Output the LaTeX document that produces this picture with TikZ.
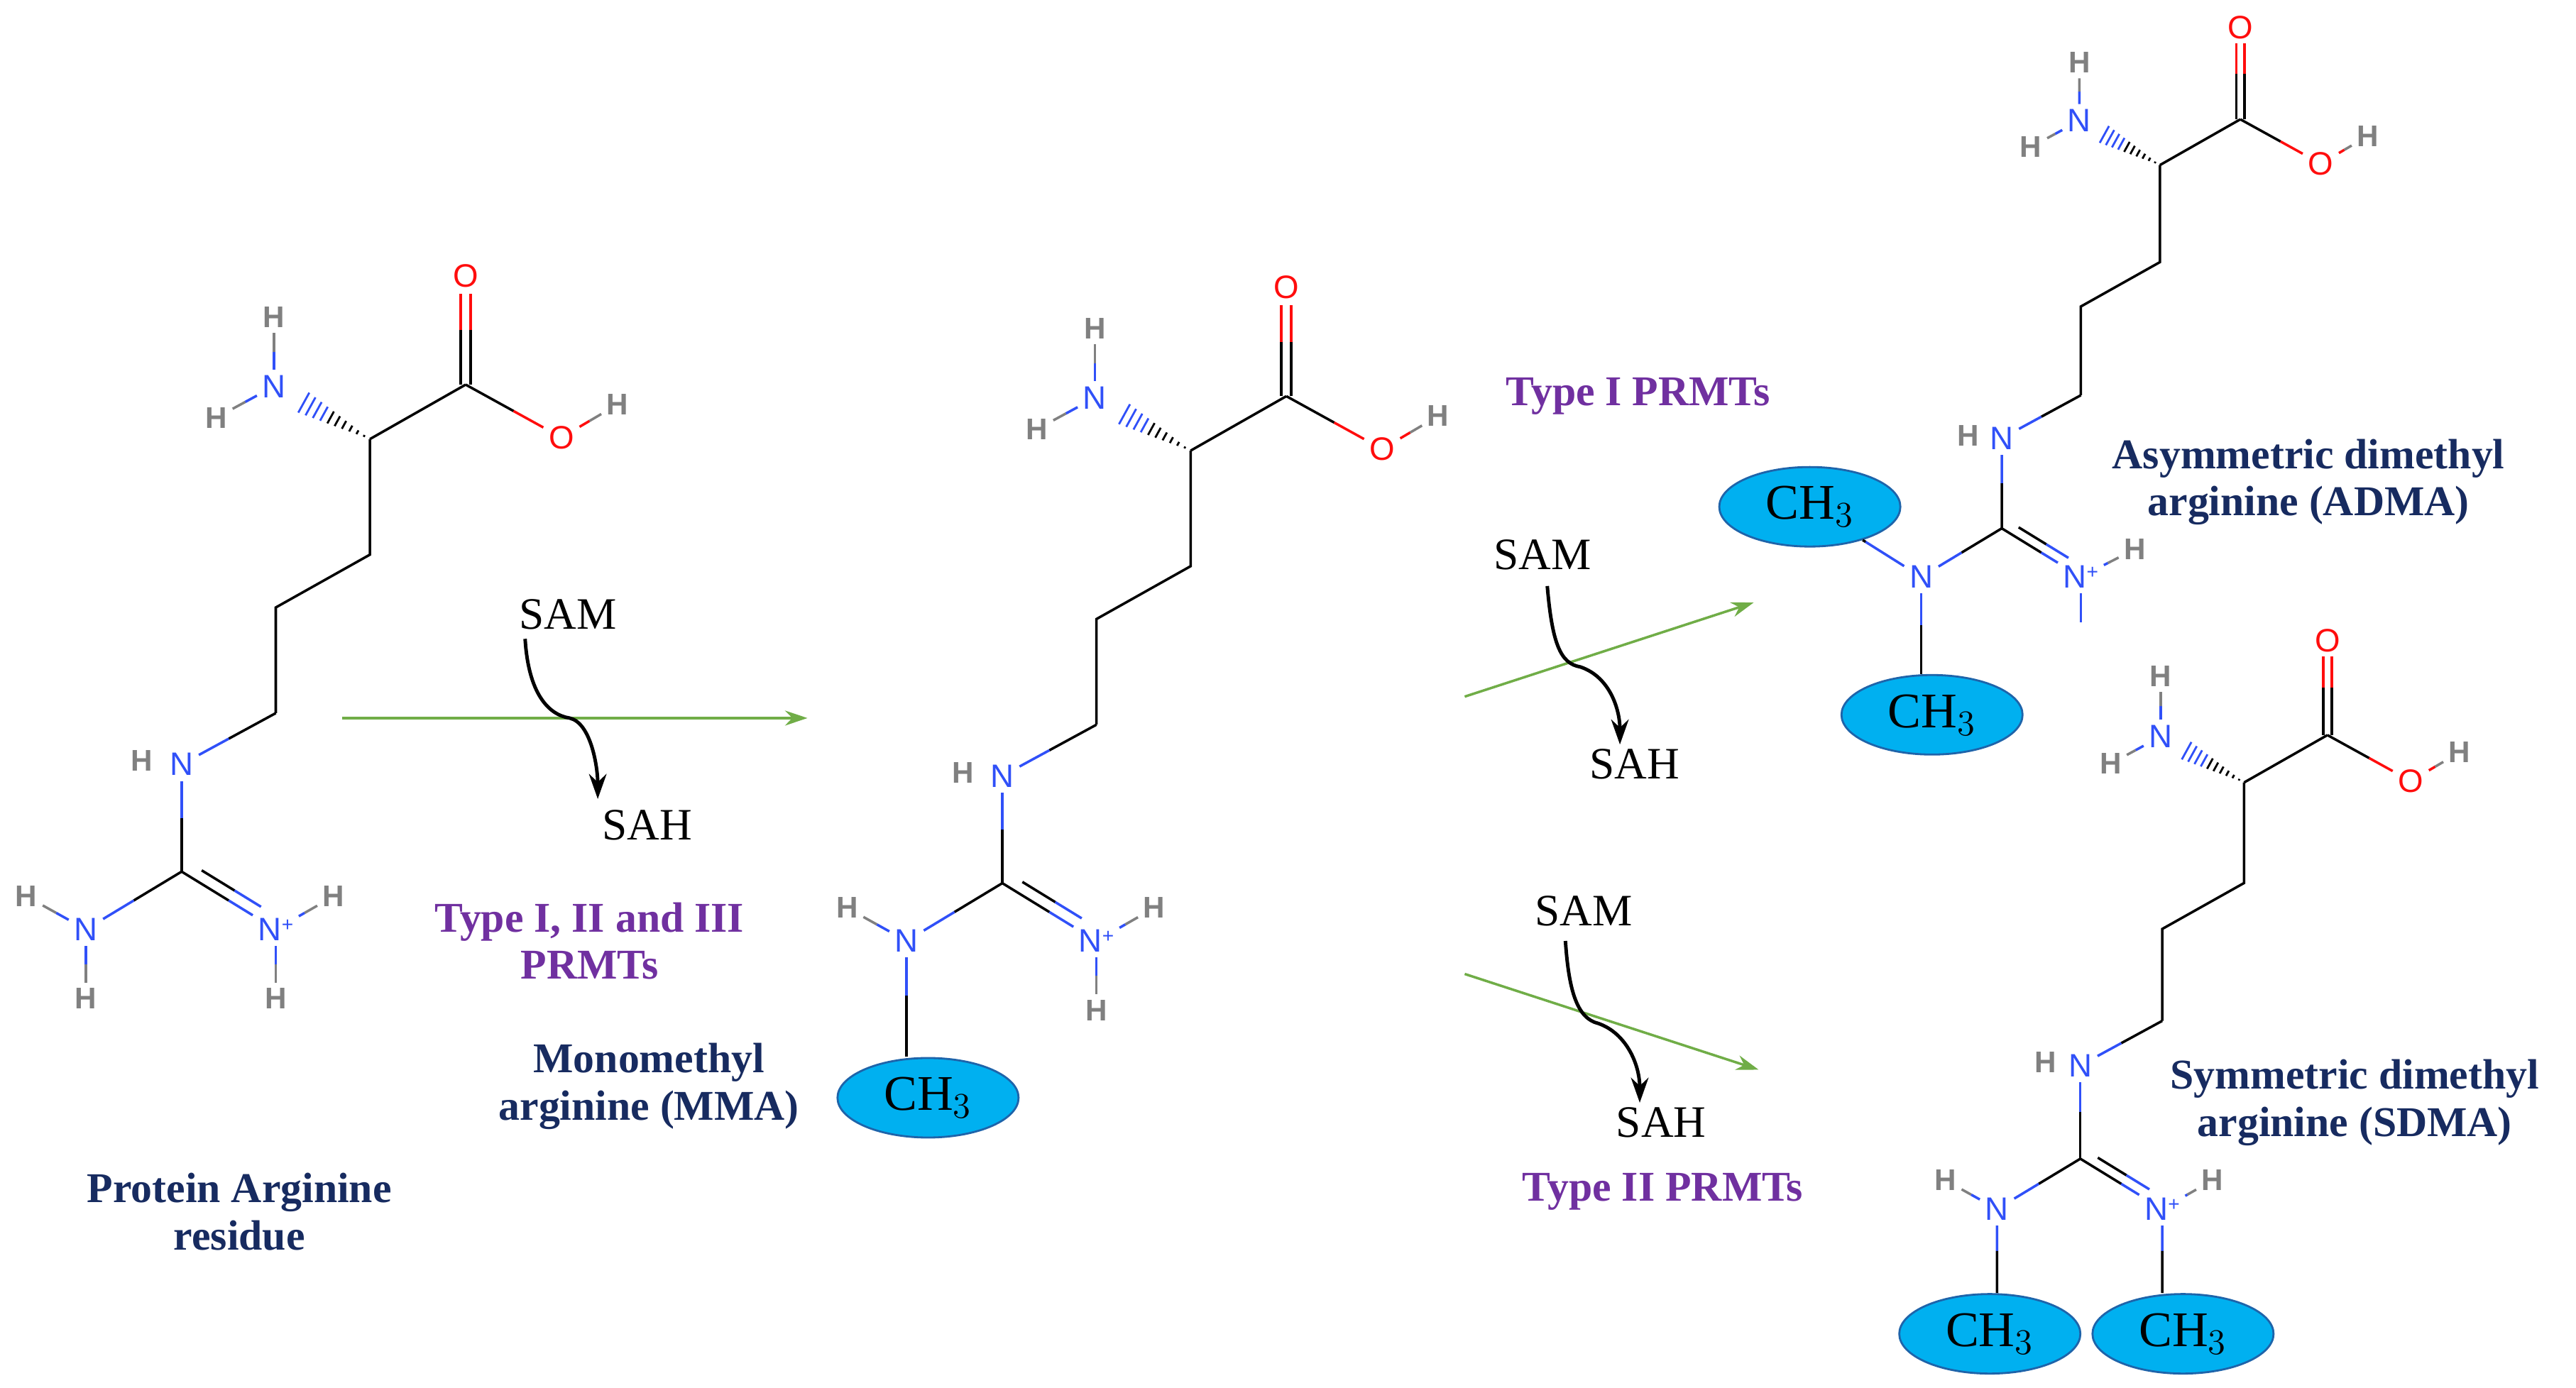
\documentclass[tikz,border=0pt]{standalone}
\usepackage{fontspec}
\setmainfont{Liberation Serif}
\setsansfont{Liberation Sans}
\usetikzlibrary{calc,arrows.meta,shapes.geometric}
\definecolor{nblue}{RGB}{48,80,248}
\definecolor{ored}{RGB}{255,13,13}
\definecolor{hgray}{RGB}{128,128,128}
\definecolor{agreen}{RGB}{112,173,71}
\definecolor{navy}{RGB}{23,43,96}
\definecolor{purp}{RGB}{112,48,160}
\definecolor{cyanf}{RGB}{0,176,240}
\definecolor{cyand}{RGB}{30,100,170}
\tikzset{
  bond/.style={line width=1pt},
  atm/.style={font=\sffamily\fontsize{13}{13}\selectfont,inner sep=2pt},
  nat/.style={atm,text=nblue},
  oat/.style={atm,text=ored},
  hat/.style={atm,text=hgray,font=\sffamily\bfseries\fontsize{12}{12}\selectfont},
  lab/.style={font=\fontsize{18}{20}\selectfont,align=center},
  nlab/.style={lab,text=navy,font=\bfseries\fontsize{17}{19}\selectfont},
  plab/.style={lab,text=purp,font=\bfseries\fontsize{17}{19}\selectfont},
  meth/.style={ellipse,fill=cyanf,draw=cyand,line width=0.8pt,minimum width=2.55cm,minimum height=1.12cm,inner sep=0pt,font=\fontsize{20}{20}\selectfont},
  garr/.style={agreen,line width=1pt,-{Stealth[length=9pt,width=6pt]}},
  karr/.style={black,line width=1.4pt,-{Stealth[length=10pt,width=7pt]}},
}
\newcommand\bnd[4]{\draw[bond,#3] (#1) -- ($(#1)!0.5!(#2)$); \draw[bond,#4] ($(#1)!0.5!(#2)$) -- (#2);}
\newcommand\argtop[1]{%
 \coordinate (#1ca) at (0,0);
 \coordinate (#1cc) at (58,-33);
 \node[oat] (#1o1) at (58,-99) {O};
 \node[oat] (#1o2) at (116,-1) {O};
 \node[hat] (#1h1) at (150,-21) {H};
 \node[nat] (#1na) at (-58,-32) {N};
 \node[hat] (#1h2) at (-58,-74) {H};
 \node[hat] (#1h3) at (-93,-13) {H};
 \coordinate (#1c1) at (0,70);
 \coordinate (#1c2) at (-57,102);
 \coordinate (#1c3) at (-57,166);
 \node[nat] (#1nh) at (-114,197) {N};
 \node[hat] (#1h4) at (-138,195) {H};
 \coordinate (#1cg) at (-114,262);
 \draw[bond] (#1ca) -- (#1cc);
 \bnd{#1cc}{#1o2}{black}{ored}
 \bnd{#1o2}{#1h1}{ored}{hgray}
 \foreach \d in {-3,3}{
   \draw[bond] ($(#1cc)+(\d,0)$) -- ($(#1cc)+(\d,-33)$);
   \draw[bond,ored] ($(#1cc)+(\d,-33)$) -- ($(#1cc)+(\d,-55)$);}
 \bnd{#1na}{#1h2}{nblue}{hgray}
 \bnd{#1na}{#1h3}{nblue}{hgray}
 \foreach \t in {0.06,0.13,...,0.75}{
   \pgfmathsetmacro\hl{10*\t}
   \pgfmathparse{\t<0.42?"black":"nblue"}\edef\cc{\pgfmathresult}
   \draw[line width=0.8pt,\cc] ({-58*\t+0.483*\hl},{-32*\t-0.876*\hl}) -- ({-58*\t-0.483*\hl},{-32*\t+0.876*\hl});}
 \draw[bond] (#1ca) -- (#1c1) -- (#1c2) -- (#1c3);
 \bnd{#1c3}{#1nh}{black}{nblue}
 \bnd{#1nh}{#1cg}{nblue}{black}
}
\newcommand\guan[1]{%
 \node[nat] (#1nl) at (-172,297) {N};
 \node[nat] (#1np) at (-57,297) {N\raisebox{0.55ex}{\fontsize{8}{8}\selectfont+}};
 \bnd{#1cg}{#1nl}{black}{nblue}
 \bnd{#1cg}{#1np}{black}{nblue}
 \draw[bond] ($(#1cg)!0.15!(#1np)+(3.6,-6)$) -- ($(#1cg)!0.5!(#1np)+(3.6,-6)$);
 \draw[bond,nblue] ($(#1cg)!0.5!(#1np)+(3.6,-6)$) -- ($(#1cg)!0.78!(#1np)+(3.6,-6)$);
}
\begin{document}
\begin{tikzpicture}[x=0.02326cm,y=-0.02326cm]
\useasboundingbox (0,0) rectangle (1560,840.5);
% molecule 1
\begin{scope}[shift={(224,266)}]
 \argtop{a}
 \guan{a}
 \node[hat] (ahl1) at (-208,277) {H};
 \node[hat] (ahl2) at (-172,339) {H};
 \node[hat] (ahp1) at (-22,277) {H};
 \node[hat] (ahp2) at (-57,339) {H};
 \bnd{anl}{ahl1}{nblue}{hgray}
 \bnd{anl}{ahl2}{nblue}{hgray}
 \bnd{anp}{ahp1}{nblue}{hgray}
 \bnd{anp}{ahp2}{nblue}{hgray}
\end{scope}
% molecule 2 (MMA)
\begin{scope}[shift={(721,273)}]
 \argtop{b}
 \guan{b}
 \node[hat] (bhl1) at (-208,277) {H};
 \node[hat] (bhp1) at (-22,277) {H};
 \node[hat] (bhp2) at (-57,339) {H};
 \bnd{bnl}{bhl1}{nblue}{hgray}
 \bnd{bnp}{bhp1}{nblue}{hgray}
 \bnd{bnp}{bhp2}{nblue}{hgray}
 \coordinate (bmid) at (-172,330);
 \coordinate (bmend) at (-172,367);
\end{scope}
\node[meth] (m1) at (562,665) {CH$_3$};
\draw[bond,nblue] (bnl) -- (bmid);
\draw[bond] (bmid) -- (bmend);
% ADMA
\begin{scope}[shift={(1308,100)},scale=0.84]
 \argtop{c}
 \guan{c}
 \node[hat] (chp1) at (-18,277) {H};
 \bnd{cnp}{chp1}{nblue}{hgray}
 \coordinate (cstub) at (-57,330);
\end{scope}
\draw[bond,nblue] (cnp) -- (cstub);
\node[meth] (m2) at (1096,307) {CH$_3$};
\node[meth] (m3) at (1170,433) {CH$_3$};
\bnd{cnl}{m2}{nblue}{black}
\coordinate (cmid) at ($(cnl)!0.5!(cnl|-m3.north)$);
\draw[bond,nblue] (cnl) -- (cmid);
\draw[bond] (cmid) -- (cnl|-m3.north);
% SDMA
\begin{scope}[shift={(1359,474)},scale=0.87]
 \argtop{d}
 \guan{d}
 \node[hat] (dhl1) at (-208,277) {H};
 \node[hat] (dhp1) at (-22,277) {H};
 \bnd{dnl}{dhl1}{nblue}{hgray}
 \bnd{dnp}{dhp1}{nblue}{hgray}
\end{scope}
\node[meth] (m4) at (1205,808) {CH$_3$};
\node[meth] (m5) at (1322,808) {CH$_3$};
\coordinate (dm1) at ($(dnl)!0.5!(dnl|-m4.north)$);
\coordinate (dm2) at ($(dnp)!0.5!(dnp|-m5.north)$);
\draw[bond,nblue] (dnl) -- (dm1); \draw[bond] (dm1) -- (dnl|-m4.north);
\draw[bond,nblue] (dnp) -- (dm2); \draw[bond] (dm2) -- (dnp|-m5.north);
% arrows
\coordinate (g1s) at (207,435); \coordinate (g1e) at (489,435);
\draw[garr] (g1s) -- (g1e);
\node[lab] (sam1) at (344,372) {SAM};
\node[lab] (sah1) at (392,500) {SAH};
\coordinate (k1s) at (318,387);
\draw[karr] (k1s) .. controls (320,420) and (332,433) .. (345,435) .. controls (358,438) and (362,465) .. (362,484);
\coordinate (g2s) at (887,422); \coordinate (g2e) at (1062,365);
\draw[garr] (g2s) -- (g2e);
\node[lab] (sam2) at (934,336) {SAM};
\node[lab] (sah2) at (990,463) {SAH};
\draw[karr] (937,355) .. controls (940,390) and (945,402) .. (957,404) .. controls (975,410) and (981,430) .. (981,451);
\coordinate (g3s) at (887,590); \coordinate (g3e) at (1065,648);
\draw[garr] (g3s) -- (g3e);
\node[lab] (sam3) at (959,552) {SAM};
\node[lab] (sah3) at (1006,680) {SAH};
\draw[karr] (948,570) .. controls (950,600) and (955,617) .. (968,620) .. controls (985,626) and (993,645) .. (993,668);
% labels
\node[plab] (t1) at (357,570) {Type I, II and III\\PRMTs};
\node[plab] (t2) at (992,240) {Type I PRMTs};
\node[plab] (t3) at (1007,722) {Type II PRMTs};
\node[nlab] (l1) at (145,734) {Protein Arginine\\residue};
\node[nlab] (l2) at (393,658) {Monomethyl\\arginine (MMA)};
\node[nlab] (l3) at (1398,292) {Asymmetric dimethyl\\arginine (ADMA)};
\node[nlab] (l4) at (1426,668) {Symmetric dimethyl\\arginine (SDMA)};
\end{tikzpicture}
\end{document}
